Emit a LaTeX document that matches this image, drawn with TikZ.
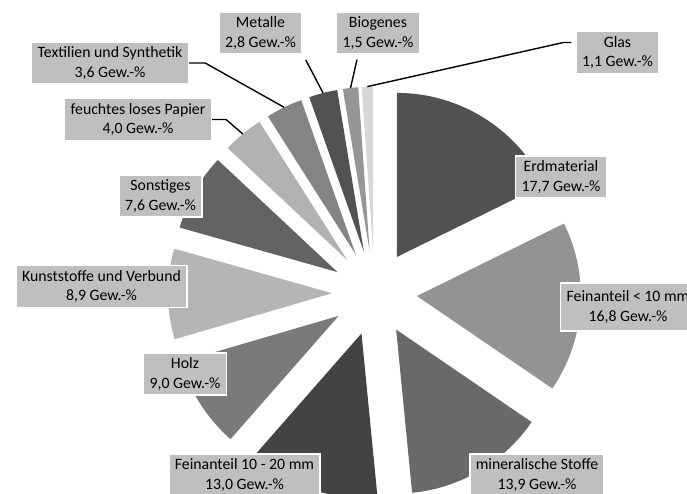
\documentclass[tikz,border=0pt]{standalone}
\usepackage{fontspec}
\setmainfont{Carlito}
\usetikzlibrary{calc}

\definecolor{cErd}{HTML}{515151}
\definecolor{cFeinA}{HTML}{939393}
\definecolor{cMin}{HTML}{696969}
\definecolor{cFeinB}{HTML}{434343}
\definecolor{cHolz}{HTML}{7A7A7A}
\definecolor{cKunst}{HTML}{B5B5B5}
\definecolor{cSonst}{HTML}{636363}
\definecolor{cPapier}{HTML}{B1B1B1}
\definecolor{cTextil}{HTML}{848484}
\definecolor{cMetall}{HTML}{525252}
\definecolor{cBio}{HTML}{969696}
\definecolor{cGlas}{HTML}{D8D8D8}
\definecolor{labfill}{HTML}{BFBFBF}

\tikzset{
  lab/.style={fill=labfill, draw=white, line width=1.5pt, inner xsep=6pt,
    inner ysep=1pt, minimum height=42pt, align=center, text=black,
    font=\fontsize{15.8}{19.5}\selectfont},
  leader/.style={draw=black, line width=1.4pt}
}

\begin{document}
\begin{tikzpicture}[x=1pt,y=1pt]
\useasboundingbox (0,0) rectangle (687,493);
\clip (0,0) rectangle (687,493);
\fill[white] (0,0) rectangle (687,493);

% pie centre; every slice is pushed out by 42.5 along its bisector
\coordinate (C) at (374.5,200);

% slices, clockwise from 12 o'clock (start angle / end angle / colour)
\foreach \a/\b/\col in {
  90/26.22/cErd,
  26.22/-34.32/cFeinA,
  -34.32/-84.41/cMin,
  -84.41/-131.26/cFeinB,
  -131.26/-163.69/cHolz,
  -163.69/-195.76/cKunst,
  -195.76/-223.15/cSonst,
  -223.15/-237.56/cPapier,
  -237.56/-250.53/cTextil,
  -250.53/-260.62/cMetall,
  -260.62/-266.03/cBio,
  -266.03/-269.99/cGlas}{
  \pgfmathsetmacro\m{(\a+\b)/2}
  \fill[\col] ($(C)+(\m:42.5)$) -- ++(\a:164)
    arc[start angle=\a, end angle=\b, radius=164] -- cycle;
}

% outer mid points of the small slices (leader line ends)
\coordinate (tipPap) at ($(C)+(-230.36:206.5)$);
\coordinate (tipTex) at ($(C)+(-244.05:206.5)$);
\coordinate (tipMet) at ($(C)+(-255.58:206.5)$);
\coordinate (tipBio) at ($(C)+(-263.33:206.5)$);
\coordinate (tipGla) at ($(C)+(-268.01:206.5)$);

% labels
\node[lab] (erd)    at (561,316)   {Erdmaterial\\17,7 Gew.-\%};
\node[lab, minimum height=48pt] (feinA) at (628,186) {Feinanteil < 10 mm\\16,8 Gew.-\%};
\node[lab] (min)    at (537,18)    {mineralische Stoffe\\13,9 Gew.-\%};
\node[lab] (feinB)  at (244.5,18)  {Feinanteil 10 - 20 mm\\13,0 Gew.-\%};
\node[lab] (holz)   at (185,119)   {Holz\\9,0 Gew.-\%};
\node[lab] (kunst)  at (101.5,206.5) {Kunststoffe und Verbund\\8,9 Gew.-\%};
\node[lab] (sonst)  at (160.5,297) {Sonstiges\\7,6 Gew.-\%};
\node[lab] (papier) at (138,373.5) {feuchtes loses Papier\\4,0 Gew.-\%};
\node[lab] (textil) at (110,430)   {Textilien und Synthetik\\3,6 Gew.-\%};
\node[lab] (metall) at (260.5,460) {Metalle\\2,8 Gew.-\%};
\node[lab] (bio)    at (378,460)   {Biogenes\\1,5 Gew.-\%};
\node[lab] (glas)   at (617.5,440.5) {Glas\\1,1 Gew.-\%};

% leader lines
\coordinate (metS) at ($(metall.south east)+(3,-5)$);
\coordinate (bioS) at ($(bio.south)+(-21,-5)$);
\coordinate (glaS) at ($(glas.west)+(-4,10)$);
\draw[leader] (papier.east) -- ++(14,0) -- (tipPap);
\draw[leader] (textil.east) -- ++(16,0) -- (tipTex);
\draw[leader] (metS) -- (tipMet);
\draw[leader] (bioS) -- (tipBio);
\draw[leader] (glaS) -- ++(-8,0) -- (tipGla);
\end{tikzpicture}
\end{document}
